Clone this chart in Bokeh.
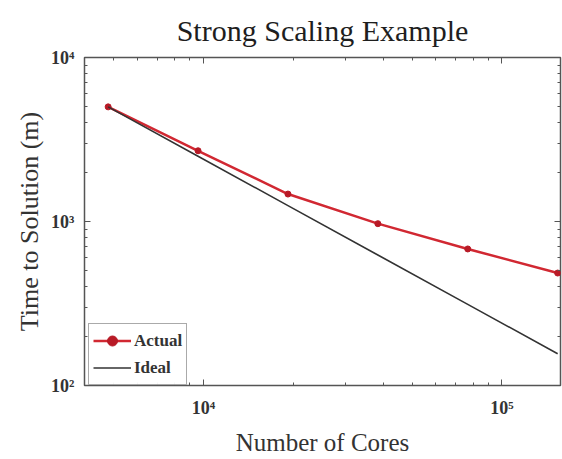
import math
from bokeh.plotting import figure
from bokeh.models import FixedTicker, LogAxis, Legend, LegendItem
from bokeh.embed import file_html
from bokeh.resources import INLINE

cores = [4800, 9600, 19200, 38400, 76800, 153600]
actual = [5000, 2700, 1470, 970, 680, 485]
ideal = [actual[0] * cores[0] / c for c in cores]

title = "Strong Scaling Example"
xlabel = "Number of Cores"
ylabel = "Time to Solution (m)"
x_major = [1e4, 1e5]
y_major = [1e2, 1e3, 1e4]
sup = {2: "\u00b2", 3: "\u00b3", 4: "\u2074", 5: "\u2075"}

def minors(lo, hi):
    out = []
    for k in range(lo, hi + 1):
        for m in range(2, 10):
            out.append(m * 10 ** k)
    return out

SERIF = "Liberation Serif"

p = figure(width=562, height=459, x_axis_type="log", y_axis_type="log",
           x_range=(4000, 157000), y_range=(100, 10000),
           output_backend="svg", toolbar_location=None,
           min_border_left=84, min_border_right=2, min_border_top=54, min_border_bottom=74)

p.title.text = title
p.title.text_font = SERIF
p.title.text_font_size = "30px"
p.title.text_font_style = "normal"
p.title.text_color = "#1e1e1e"
p.title.align = "center"
p.title.standoff = 22

p.xgrid.visible = False
p.ygrid.visible = False
p.outline_line_color = "#555555"
p.outline_line_width = 1.5
p.background_fill_color = "white"

def style(ax, ticker, labels=True):
    ax.ticker = ticker
    ax.axis_line_color = None
    ax.major_tick_in = 6
    ax.major_tick_out = 0
    ax.minor_tick_in = 3
    ax.minor_tick_out = 0
    ax.major_tick_line_color = "#555555"
    ax.minor_tick_line_color = "#555555"
    if labels:
        ax.major_label_text_font = SERIF
        ax.major_label_text_font_size = "18px"
        ax.major_label_text_font_style = "bold"
        ax.major_label_text_color = "#333333"
    else:
        ax.major_label_text_font_size = "1px"
        ax.major_label_text_color = None
        ax.major_label_standoff = 0

xa = p.xaxis[0]
style(xa, FixedTicker(ticks=x_major, minor_ticks=minors(3, 5)))
xa.major_label_overrides = {v: "10" + sup[int(round(math.log10(v)))] for v in x_major}
xa.major_label_standoff = 12
xa.axis_label = xlabel
xa.axis_label_text_font = SERIF
xa.axis_label_text_font_size = "25px"
xa.axis_label_text_font_style = "normal"
xa.axis_label_text_color = "#333333"
xa.axis_label_standoff = 8

ya = p.yaxis[0]
style(ya, FixedTicker(ticks=y_major, minor_ticks=minors(1, 4)))
ya.major_label_overrides = {v: "10" + sup[int(round(math.log10(v)))] for v in y_major}
ya.major_label_standoff = 10
ya.axis_label = ylabel
ya.axis_label_text_font = SERIF
ya.axis_label_text_font_size = "26px"
ya.axis_label_text_font_style = "normal"
ya.axis_label_text_color = "#333333"
ya.axis_label_standoff = 4

top = LogAxis()
style(top, FixedTicker(ticks=x_major, minor_ticks=minors(3, 5)), labels=False)
p.add_layout(top, "above")
right = LogAxis()
style(right, FixedTicker(ticks=y_major, minor_ticks=minors(1, 4)), labels=False)
p.add_layout(right, "right")

r_act = p.line(cores, actual, line_color="#d12832", line_width=2.5)
r_pts = p.scatter(cores, actual, marker="circle", size=6, fill_color="#b81a26", line_color="#b81a26")
r_ideal = p.line(cores, ideal, line_color="#333333", line_width=1.6)

legend = Legend(items=[LegendItem(label="Actual", renderers=[r_act, r_pts]),
                       LegendItem(label="Ideal", renderers=[r_ideal])],
                location=(4, 0))
legend.label_text_font = SERIF
legend.label_text_font_size = "17px"
legend.label_text_font_style = "bold"
legend.label_text_color = "#333333"
legend.border_line_color = "#555555"
legend.border_line_width = 1.2
legend.margin = 0
legend.padding = 4
legend.spacing = 2
legend.glyph_width = 38
legend.label_standoff = 3
legend.label_height = 25
legend.glyph_height = 25
p.add_layout(legend)

open("out.html", "w").write(file_html(p, INLINE))
